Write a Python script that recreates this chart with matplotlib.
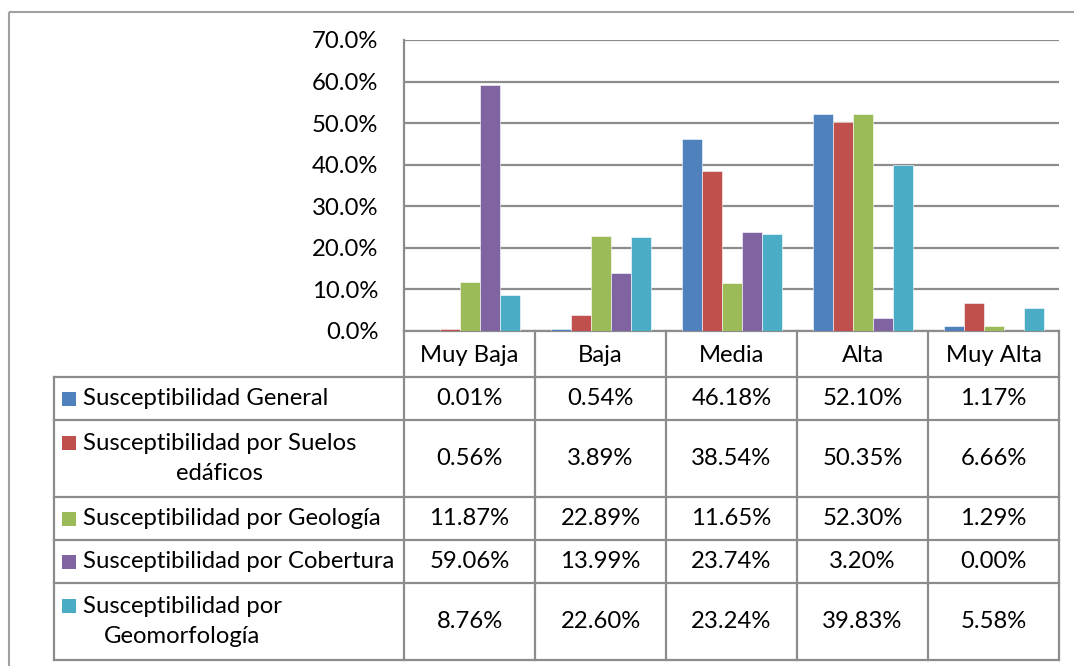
import matplotlib
matplotlib.use("Agg")
import matplotlib.pyplot as plt
from matplotlib.patches import Rectangle
from matplotlib.ticker import FuncFormatter

plt.rcParams['font.family'] = ['Lato', 'DejaVu Sans']

# Data
categories = ["Muy Baja", "Baja", "Media", "Alta", "Muy Alta"]
series_names = [
    "Susceptibilidad General",
    "Susceptibilidad por Suelos\nedáficos",
    "Susceptibilidad por Geología",
    "Susceptibilidad por Cobertura",
    "Susceptibilidad por\nGeomorfología",
]
general = [0.01, 0.54, 46.18, 52.10, 1.17]
suelos = [0.56, 3.89, 38.54, 50.35, 6.66]
geologia = [11.87, 22.89, 11.65, 52.30, 1.29]
cobertura = [59.06, 13.99, 23.74, 3.20, 0.00]
geomorfologia = [8.76, 22.60, 23.24, 39.83, 5.58]
series_values = [general, suelos, geologia, cobertura, geomorfologia]
y_ticks = [0, 10, 20, 30, 40, 50, 60, 70]

colors = ["#4F81BD", "#C0504D", "#9BBB59", "#8064A2", "#4BACC6"]
grid_color = "#8C8C8C"
FS = 17.2

W, H = 1074, 666
fig = plt.figure(figsize=(W / 100, H / 100), dpi=100)

# Full-figure overlay in pixel coordinates for the frame and data table
ov = fig.add_axes([0, 0, 1, 1], zorder=0)
ov.set_xlim(0, W)
ov.set_ylim(H, 0)
ov.axis("off")

# Bar chart area
x_left, x_right = 404, 1059
y_top, y_bot = 40, 331
ax = fig.add_axes([x_left / W, 1 - y_bot / H, (x_right - x_left) / W, (y_bot - y_top) / H], zorder=2)
ax.patch.set_alpha(0)

n = len(series_values)
bw = 20 / 131
for i, (vals, c) in enumerate(zip(series_values, colors)):
    xs = [k + (i - (n - 1) / 2) * bw for k in range(len(categories))]
    ax.bar(xs, [v / 100 for v in vals], width=bw, color=c, edgecolor="white",
           linewidth=0.4, zorder=3)

ax.set_xlim(-0.5, len(categories) - 0.5)
ax.set_ylim(0, 0.70)
ax.set_yticks([t / 100 for t in y_ticks])
ax.yaxis.set_major_formatter(FuncFormatter(lambda v, p: f"{v * 100:.1f}%"))
ax.set_xticks([])
ax.tick_params(axis="y", length=0, pad=18.5, labelsize=FS, colors="black")
ax.yaxis.grid(True, color=grid_color, linewidth=1.6, zorder=0)
ax.set_axisbelow(True)
for s in ["top", "right", "bottom"]:
    ax.spines[s].set_visible(False)
ax.spines["left"].set_color(grid_color)
ax.spines["left"].set_linewidth(1.6)

# Outer frame
ov.plot([9, W], [12, 12], color="#A0A0A0", lw=1.5, solid_capstyle="butt")
ov.plot([9, 9], [12, H], color="#A0A0A0", lw=1.5, solid_capstyle="butt")

# Data table
col_edges = [404 + 131 * k for k in range(len(categories) + 1)]
row_edges = [377, 420, 497, 540, 583, 660]
tbl_left = 54
lw_t = 1.6
ov.plot([x_left, x_right], [y_bot, y_bot], color=grid_color, lw=lw_t)
for y in row_edges:
    ov.plot([tbl_left, col_edges[-1]], [y, y], color=grid_color, lw=lw_t)
ov.plot([tbl_left, tbl_left], [row_edges[0], row_edges[-1]], color=grid_color, lw=lw_t)
for x in col_edges:
    ov.plot([x, x], [y_bot, row_edges[-1]], color=grid_color, lw=lw_t)

# Header row
for k, cat in enumerate(categories):
    cx = (col_edges[k] + col_edges[k + 1]) / 2
    ov.text(cx, (y_bot + row_edges[0]) / 2 + 2, cat, ha="center", va="center", fontsize=FS)

# Series rows
for r in range(n):
    top, bot = row_edges[r], row_edges[r + 1]
    cy = (top + bot) / 2
    name = series_names[r]
    two_lines = "\n" in name
    key_y = cy - 16 if two_lines else cy
    ov.add_patch(Rectangle((62, key_y - 7), 14, 14, color=colors[r], lw=0))
    ov.text(83, cy, name, ha="left", va="center", multialignment="center",
            fontsize=FS, linespacing=1.5)
    for k in range(len(categories)):
        cx = (col_edges[k] + col_edges[k + 1]) / 2
        ov.text(cx, cy, f"{series_values[r][k]:.2f}%", ha="center", va="center", fontsize=FS)

fig.savefig("out.png", dpi=100)
